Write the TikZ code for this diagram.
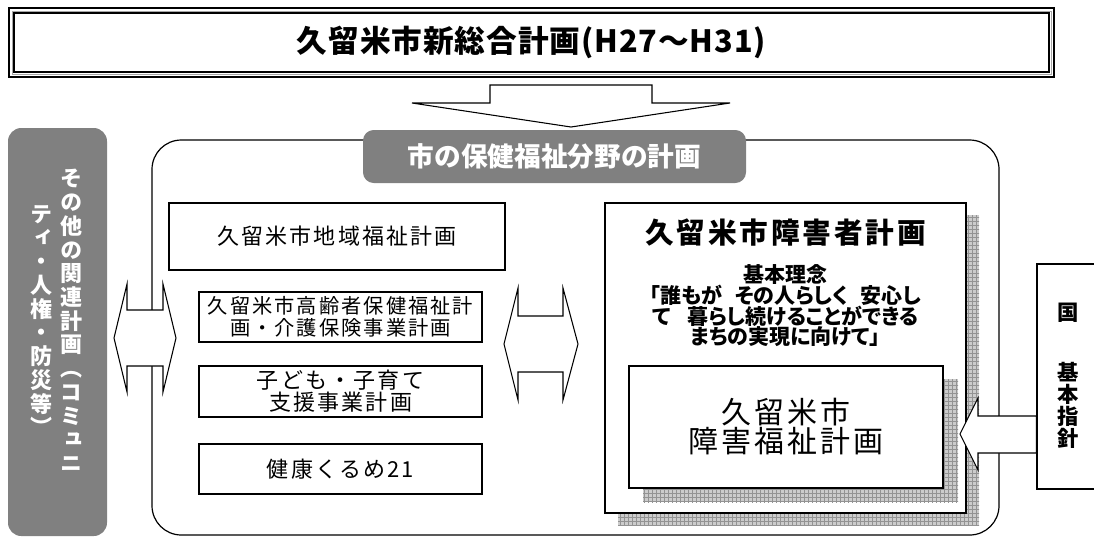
\documentclass[tikz,border=0pt]{standalone}
\usepackage{fontspec}
\setmainfont{Noto Sans CJK JP}
\newfontfamily\jpv{Noto Sans CJK JP}[RawFeature=+vert]
\newfontfamily\jpp{Noto Sans CJK JP}[RawFeature=+palt]
\newfontfamily\jpa{Noto Sans CJK JP}[LetterSpace=10]
\newfontfamily\jpt{Noto Sans CJK JP}[LetterSpace=3]
\usetikzlibrary{patterns}
\newdimen\pxu \pxu=0.75pt
\definecolor{midgray}{RGB}{128,128,128}
\begin{document}
\begin{tikzpicture}[x=0.75pt,y=-0.75pt,line join=miter,
  box/.style={draw=black,line width=0.9pt,fill=white,inner sep=0pt,align=center},
  gbox/.style={fill=midgray,inner sep=0pt,text=white,align=center},
  blockarrow/.style={draw=black,line width=0.8pt,fill=white},
  vtext/.style={text=white,inner sep=0pt,align=center,font=\jpv\bfseries\fontsize{16.5}{17.8}\selectfont},
  shadow/.style={fill=gray!40},
  shadowgrid/.style={pattern=grid,pattern color=gray!85}]
\clip (0,0) rectangle (1094,537);
\useasboundingbox (0,0) rectangle (1094,537);

% title frame
\node[draw=black,line width=2pt,minimum width=1045\pxu,minimum height=69\pxu,inner sep=0pt] (title) at (531.5,42.5) {};
\node[draw=gray!70,line width=0.6pt,minimum width=1039\pxu,minimum height=63\pxu] (titlemid) at (title.center) {};
\node[draw=black,line width=1.1pt,minimum width=1035\pxu,minimum height=59\pxu,
  font=\jpt\bfseries\fontsize{23}{26}\selectfont] (titletext) at (title.center) {久留米市新総合計画(H27〜H31)};

% down arrow
\draw[blockarrow] (490,85) -- (652,85) -- (652,103) -- (730,103) -- (571,127) -- (412,103) -- (490,103) -- cycle;

% left gray box with vertical text
\node[gbox,rounded corners=10pt,minimum width=99\pxu,minimum height=408\pxu] (others) at (57.5,332) {};
\node[vtext] (othersA) at (71,320.5)
 {そ\\の\\他\\の\\関\\連\\計\\画\\（\\コ\\ミ\\ュ\\ニ};
\node[vtext] (othersB) at (41,320.5)
 {テ\\ィ\\・\\人\\権\\・\\防\\災\\等\\）};

% big rounded frame
\node[draw=black,line width=0.9pt,rounded corners=22pt,minimum width=847\pxu,minimum height=395\pxu] (frame) at (575.5,337.5) {};

% gray label
\node[gbox,rounded corners=8pt,minimum width=383\pxu,minimum height=53\pxu,font=\bfseries\fontsize{20}{24}\selectfont] (label) at (554.5,156.5) {市の保健福祉分野の計画};

% left boxes
\node[box,minimum width=336\pxu,minimum height=67\pxu,font=\jpa\fontsize{16.5}{20}\selectfont] (chiiki) at (337,236.5) {久留米市地域福祉計画};
\node[box,minimum width=283\pxu,minimum height=50\pxu,font=\jpa\fontsize{15.2}{16.5}\selectfont] (korei) at (340.5,317) {久留米市高齢者保健福祉計\\画・介護保険事業計画};
\node[box,minimum width=283\pxu,minimum height=51\pxu,font=\jpa\fontsize{16.5}{16.5}\selectfont] (kodomo) at (340.5,391.5) {子ども・子育て\\支援事業計画};
\node[box,minimum width=283\pxu,minimum height=50\pxu,font=\jpa\fontsize{16.5}{20}\selectfont] (kenko) at (340.5,469) {健康くるめ21};

% double arrows
\draw[blockarrow] (114,338) -- (127,284) -- (127,310) -- (163,310) -- (163,284) -- (176,338) -- (163,392) -- (163,366) -- (127,366) -- (127,392) -- cycle;
\draw[blockarrow] (504,344) -- (518,288) -- (518,316) -- (563,316) -- (563,288) -- (578,344) -- (563,400) -- (563,372) -- (518,372) -- (518,400) -- cycle;

% disability plan box with shadow
\fill[shadow] (618,215) rectangle (979,525);
\fill[shadowgrid] (618,215) rectangle (979,525);
\node[box,line width=1.1pt,minimum width=361\pxu,minimum height=310\pxu] (plan) at (785.5,358) {};
\node[inner sep=0pt,font=\jpa\bfseries\fontsize{21.5}{24}\selectfont] (plantitle) at (785.5,233) {久留米市障害者計画};
\node[inner sep=0pt,align=center,font=\jpp\bfseries\fontsize{15.75}{15.5}\selectfont] (principle) at (785.5,306)
 {基本理念\\「誰もが\hspace{0.6em}その人らしく\hspace{0.6em}安心し\\て\hspace{0.8em}暮らし続けることができる\\まちの実現に向けて」};

% inner box with shadow
\fill[shadow] (643,379) rectangle (958,502);
\fill[shadowgrid] (643,379) rectangle (958,502);
\node[box,line width=1.1pt,minimum width=314\pxu,minimum height=122\pxu,font=\jpa\fontsize{22.5}{21.75}\selectfont] (welfare) at (786,427) {久留米市\\障害福祉計画};

% national guideline box
\node[box,minimum width=80\pxu,minimum height=225\pxu] (kuni) at (1077,376.5) {};
\node[inner sep=0pt,font=\bfseries\fontsize{16}{16.5}\selectfont] (kunitext) at (1068,313) {国};
\node[inner sep=0pt,align=center,font=\bfseries\fontsize{16}{16.5}\selectfont] (kihon) at (1068,405) {基\\本\\指\\針};

% arrow from guideline to welfare plan
\draw[blockarrow] (960,434) -- (978,398) -- (978,416) -- (kuni.west |- 0,416) -- (kuni.west |- 0,453) -- (978,453) -- (978,470) -- cycle;
\end{tikzpicture}
\end{document}
